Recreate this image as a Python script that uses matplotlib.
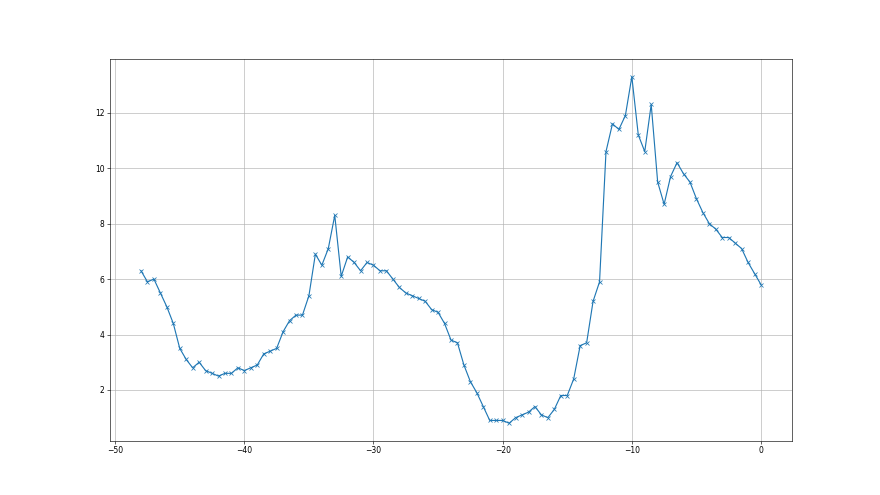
import numpy as np
import matplotlib
matplotlib.use('Agg')
import matplotlib.pyplot as plt

# time offsets (half-step from -48 to 0)
hours = np.arange(-48, 0.5, 0.5)

values = [
    6.3, 5.9, 6.0, 5.5, 5.0, 4.4, 3.5, 3.1, 2.8, 3.0,
    2.7, 2.6, 2.5, 2.6, 2.6, 2.8, 2.7, 2.8, 2.9, 3.3,
    3.4, 3.5, 4.1, 4.5, 4.7, 4.7, 5.4, 6.9, 6.5, 7.1,
    8.3, 6.1, 6.8, 6.6, 6.3, 6.6, 6.5, 6.3, 6.3, 6.0,
    5.7, 5.5, 5.4, 5.3, 5.2, 4.9, 4.8, 4.4, 3.8, 3.7,
    2.9, 2.3, 1.9, 1.4, 0.9, 0.9, 0.9, 0.8, 1.0, 1.1,
    1.2, 1.4, 1.1, 1.0, 1.3, 1.8, 1.8, 2.4, 3.6, 3.7,
    5.2, 5.9, 10.6, 11.6, 11.4, 11.9, 13.3, 11.2, 10.6, 12.3,
    9.5, 8.7, 9.7, 10.2, 9.8, 9.5, 8.9, 8.4, 8.0, 7.8,
    7.5, 7.5, 7.3, 7.1, 6.6, 6.2, 5.8,
]

fig = plt.figure(figsize=(16, 9), dpi=55)
plt.plot(hours, values, marker='x')
plt.grid(True)
plt.savefig('out.png', dpi=55)
